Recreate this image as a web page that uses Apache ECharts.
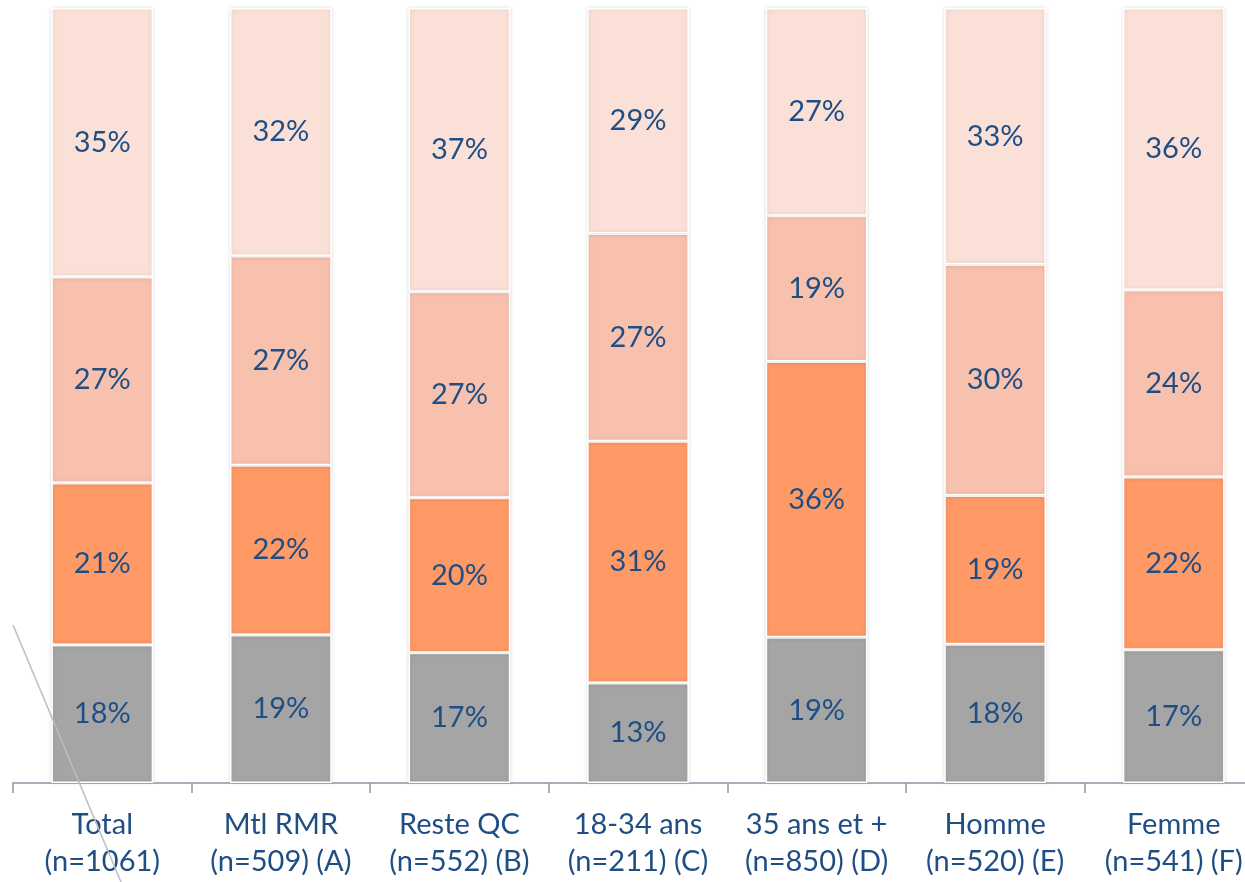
<!DOCTYPE html>
<html lang="fr">
<head>
<meta charset="UTF-8">
<title>Graphique empilé</title>
<script src="https://cdn.jsdelivr.net/npm/echarts@6/dist/echarts.min.js"></script>
<style>
  html, body { margin: 0; padding: 0; background: #fff; }
  #chart { width: 1245px; height: 882px; }
</style>
</head>
<body>
<div id="chart"></div>
<script>
// categories (x axis)
var categories = [
    'Total\n(n=1061)',
    'Mtl RMR\n(n=509) (A)',
    'Reste QC\n(n=552) (B)',
    '18-34 ans\n(n=211) (C)',
    '35 ans et +\n(n=850) (D)',
    'Homme\n(n=520) (E)',
    'Femme\n(n=541) (F)'
];

// stacked shares, bottom to top
var seg1 = [17.8, 19.1, 16.8, 12.9, 18.8, 17.9, 17.2];
var seg2 = [20.9, 21.9, 20.0, 31.2, 35.6, 19.2, 22.3];
var seg3 = [26.6, 27.0, 26.6, 26.8, 18.8, 29.8, 24.1];
var seg4 = [34.7, 32.0, 36.6, 29.1, 26.8, 33.1, 36.4];

var colors = ['#a5a5a5', '#ff9966', '#f8c1ad', '#fbe0d8'];
var labelColor = '#1f4e85';

var dom = document.getElementById('chart');
var myChart = echarts.init(dom);

function makeSeries(data, idx) {
    return {
        type: 'bar',
        stack: 'all',
        data: data,
        barWidth: '57%',
        itemStyle: {
            color: colors[idx],
            borderColor: '#ffffff',
            borderWidth: 1.5,
            shadowColor: 'rgba(0,0,0,0.12)',
            shadowBlur: 4
        },
        label: {
            show: true,
            position: 'inside',
            color: labelColor,
            fontFamily: 'Lato',
            fontSize: 29,
            formatter: function (p) { return Math.round(p.value) + '%'; }
        },
        silent: true
    };
}

var option = {
    backgroundColor: '#ffffff',
    animation: false,
    grid: { left: 13, top: 8, right: -18, bottom: 99, outerBoundsMode: 'none' },
    xAxis: {
        type: 'category',
        data: categories,
        axisLine: { lineStyle: { color: '#8c95a8', width: 1.5 } },
        axisTick: { show: true, length: 10, lineStyle: { color: '#8c95a8', width: 1.5 } },
        axisLabel: {
            color: labelColor,
            fontFamily: 'Lato',
            fontSize: 29,
            lineHeight: 37,
            margin: 23,
            interval: 0
        }
    },
    yAxis: {
        type: 'value',
        min: 0,
        max: 100,
        show: false
    },
    series: [
        makeSeries(seg1, 0),
        makeSeries(seg2, 1),
        makeSeries(seg3, 2),
        makeSeries(seg4, 3)
    ],
    graphic: [{
        type: 'line',
        silent: true,
        z: 100,
        shape: { x1: 13, y1: 625, x2: 121, y2: 882 },
        style: { stroke: '#bdbdbd', lineWidth: 1.5 }
    }]
};

myChart.setOption(option);
</script>
</body>
</html>
